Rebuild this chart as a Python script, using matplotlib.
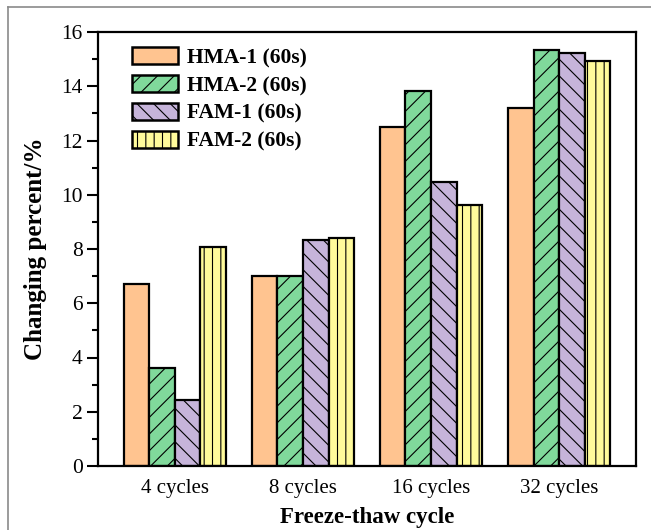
import matplotlib
matplotlib.use("Agg")
import matplotlib.pyplot as plt
import numpy as np
from matplotlib.lines import Line2D
from matplotlib.ticker import MultipleLocator

plt.rcParams['font.family'] = ['Liberation Serif', 'DejaVu Serif']
plt.rcParams['hatch.linewidth'] = 0.8
plt.rcParams['hatch.color'] = '#333333'

categories = ["4 cycles", "8 cycles", "16 cycles", "32 cycles"]
series_names = ["HMA-1 (60s)", "HMA-2 (60s)", "FAM-1 (60s)", "FAM-2 (60s)"]
hma1 = [6.70, 7.02, 12.48, 13.20]
hma2 = [3.60, 7.02, 13.82, 15.32]
fam1 = [2.45, 8.32, 10.46, 15.24]
fam2 = [8.09, 8.42, 9.63, 14.93]
values = [hma1, hma2, fam1, fam2]
colors = ["#FFC490", "#80D99B", "#C6B4DA", "#FFFB9B"]
hatches = ["", "//", "\\\\", "||"]

fig = plt.figure(figsize=(6.51, 5.30), dpi=100)
ax = fig.add_axes([98/651, 1-466/530, (636-98)/651, (466-32)/530])

x = np.arange(len(categories))
w = 0.2
for i, (vals, c, h, name) in enumerate(zip(values, colors, hatches, series_names)):
    ax.bar(x + (i - 1.5) * w, vals, width=w, color=c, edgecolor="black",
           linewidth=1.6, hatch=h, label=name)

ax.set_xlim(-0.6, 3.6)
ax.set_ylim(0, 16)
ax.set_xticks(x)
ax.set_xticklabels(categories, fontsize=15)
ax.yaxis.set_major_locator(MultipleLocator(2))
ax.yaxis.set_minor_locator(MultipleLocator(1))
ax.tick_params(axis='y', which='major', direction='out', length=8, width=1.5, labelsize=15.5, pad=3)
ax.tick_params(axis='y', which='minor', direction='out', length=4, width=1.5)
ax.tick_params(axis='x', which='both', length=0, labelsize=15, pad=9)
for s in ax.spines.values():
    s.set_linewidth(1.6)

ax.set_xlabel("Freeze-thaw cycle", fontsize=16.5, fontweight='bold', labelpad=7)
ax.set_ylabel("Changing percent/%", fontsize=18, fontweight='bold', labelpad=10)

leg = ax.legend(loc='upper left', bbox_to_anchor=(0.04, 0.995), frameon=False,
                prop={'weight': 'bold', 'size': 15.5}, handlelength=2.1, handleheight=0.85,
                labelspacing=0.32, handletextpad=0.45, borderaxespad=0.2)
for hdl in leg.legend_handles:
    hdl.set_linewidth(1.8)

# grey outer frame lines (left and top)
fig.add_artist(Line2D([8/651, 8/651], [0, 1-7/530], color="#8a8a8a", linewidth=1.2,
                      transform=fig.transFigure))
fig.add_artist(Line2D([8/651, 1], [1-7/530, 1-7/530], color="#8a8a8a", linewidth=1.2,
                      transform=fig.transFigure))

fig.savefig("out.png", dpi=100)
